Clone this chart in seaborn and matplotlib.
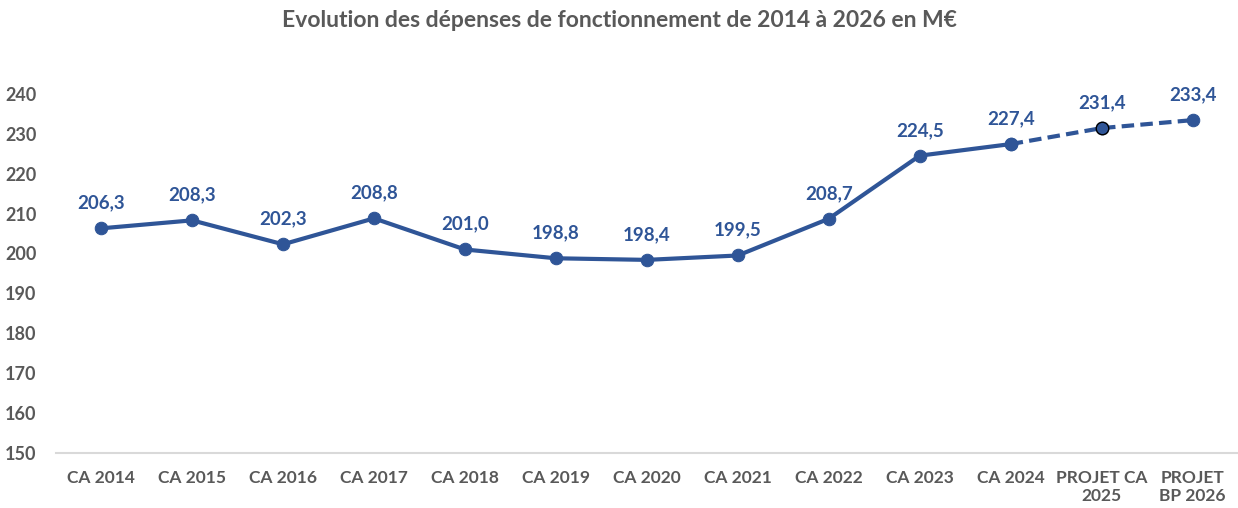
import pandas as pd
import matplotlib.pyplot as plt
import seaborn as sns

categories = ["CA 2014", "CA 2015", "CA 2016", "CA 2017", "CA 2018", "CA 2019", "CA 2020",
              "CA 2021", "CA 2022", "CA 2023", "CA 2024", "PROJET CA\n2025", "PROJET\nBP 2026"]
values = [206.3, 208.3, 202.3, 208.8, 201.0, 198.8, 198.4, 199.5, 208.7, 224.5, 227.4, 231.4, 233.4]
labels = ["206,3", "208,3", "202,3", "208,8", "201,0", "198,8", "198,4", "199,5", "208,7",
          "224,5", "227,4", "231,4", "233,4"]
y_ticks = [150, 160, 170, 180, 190, 200, 210, 220, 230, 240]

BLUE = "#2F5597"
GRAY = "#595959"

sns.set_theme(style="white")
plt.rcParams['font.family'] = ['Lato', 'DejaVu Sans']

df = pd.DataFrame({"cat": categories, "val": values, "x": range(len(categories))})
n_real = 11  # CA 2014 .. CA 2024 are actuals, the rest projections

fig = plt.figure(figsize=(12.38, 5.08), dpi=100)
ax = fig.add_axes([0.045, 0.108, 0.955, 0.786])

sns.lineplot(data=df.iloc[:n_real], x="x", y="val", ax=ax, color=BLUE, linewidth=3,
             marker="o", markersize=9, markeredgecolor=BLUE)
sns.lineplot(data=df.iloc[n_real - 1:], x="x", y="val", ax=ax, color=BLUE, linewidth=3,
             linestyle=(0, (3, 1.5)), marker="o", markersize=9, markeredgecolor=BLUE)
# the 2025 projection point has a dark outline
ax.plot(df["x"].iloc[11], df["val"].iloc[11], "o", color=BLUE, markersize=9,
        markeredgecolor="black", markeredgewidth=1.0)

for xi, v, lab in zip(df["x"], values, labels):
    ax.text(xi, v + 4.2, lab, ha="center", va="bottom", color=BLUE,
            fontsize=13.5, fontweight="bold")

ax.set_xlim(-0.5, len(categories) - 0.5)
ax.set_ylim(150, 250)
ax.set_yticks(y_ticks)
ax.set_xticks(df["x"])
ax.set_xticklabels(categories)
ax.tick_params(axis="x", length=0, labelsize=12.5, labelcolor=GRAY, pad=12)
ax.tick_params(axis="y", length=0, labelsize=13, labelcolor=GRAY, pad=14)
for t in ax.get_xticklabels() + ax.get_yticklabels():
    t.set_fontweight("bold")
ax.set_xlabel("")
ax.set_ylabel("")

for side in ["top", "right", "left"]:
    ax.spines[side].set_visible(False)
ax.spines["bottom"].set_color("#D9D9D9")
ax.spines["bottom"].set_linewidth(1.5)
ax.grid(False)

fig.suptitle("Evolution des dépenses de fonctionnement de 2014 à 2026 en M€",
             x=0.5, y=0.98, fontsize=16.5, fontweight="bold", color=GRAY)

fig.savefig("out.png", dpi=100)
